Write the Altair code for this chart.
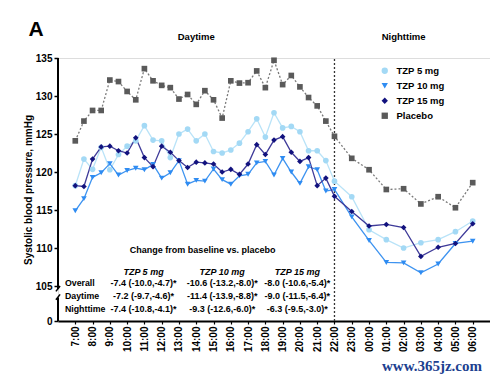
import altair as alt
import pandas as pd

# ---------------- data ----------------
times = ["7:00", "7:30", "8:00", "8:30", "9:00", "9:30", "10:00", "10:30", "11:00", "11:30",
         "12:00", "12:30", "13:00", "13:30", "14:00", "14:30", "15:00", "15:30", "16:00", "16:30",
         "17:00", "17:30", "18:00", "18:30", "19:00", "19:30", "20:00", "20:30", "21:00", "21:30",
         "22:00", "23:00", "00:00", "01:00", "02:00", "03:00", "04:00", "05:00", "06:00"]

series_names = ["TZP 5 mg", "TZP 10 mg", "TZP 15 mg", "Placebo"]

tzp5 = [118.2, 121.7, 120.35, 123.25, 120.3, 122.3, 123.4, 124.1, 126.1, 124.2,
        124.1, 121.9, 125.0, 125.65, 124.1, 125.0, 122.7, 122.5, 122.9, 123.8,
        125.3, 127.0, 124.6, 127.8, 125.8, 126.0, 125.3, 122.8, 122.8, 121.5,
        118.8, 116.75, 112.4, 111.1, 110.0, 110.7, 111.1, 112.15, 113.55]
tzp10 = [114.9, 116.5, 119.3, 119.9, 121.1, 119.6, 120.2, 120.5, 120.3, 121.0,
         119.2, 119.9, 121.5, 118.4, 118.9, 118.8, 120.4, 119.0, 118.4, 119.5,
         119.7, 121.2, 121.4, 119.6, 121.8, 120.0, 118.5, 120.7, 120.3, 117.5,
         117.7, 114.1, 111.0, 108.1, 108.05, 106.75, 107.9, 110.6, 110.9]
tzp15 = [118.2, 118.1, 121.7, 123.3, 123.4, 122.8, 122.5, 124.5, 121.9, 120.7,
         123.4, 122.6, 121.5, 120.6, 121.3, 121.2, 121.05, 120.0, 120.35, 119.7,
         121.05, 123.6, 122.3, 124.2, 124.65, 122.6, 121.4, 121.9, 118.2, 119.2,
         116.8, 114.8, 112.9, 113.1, 112.7, 108.9, 110.1, 110.6, 113.2]
placebo = [124.1, 126.7, 128.1, 128.1, 132.1, 131.9, 130.6, 129.5, 133.6, 132.0,
           131.4, 131.1, 129.6, 130.2, 128.9, 130.7, 129.5, 127.1, 132.0, 131.7,
           131.75, 133.3, 131.1, 134.7, 131.5, 132.7, 131.2, 129.8, 128.7, 126.7,
           124.7, 121.8, 120.3, 117.7, 117.8, 115.8, 116.75, 115.3, 118.6]

tick_labels = ["7:00", "8:00", "9:00", "10:00", "11:00", "12:00", "13:00", "14:00", "15:00",
               "16:00", "17:00", "18:00", "19:00", "20:00", "21:00", "22:00", "23:00", "00:00",
               "01:00", "02:00", "03:00", "04:00", "05:00", "06:00"]
y_ticks = [105, 110, 115, 120, 125, 130, 135]

table_title = "Change from baseline vs. placebo"
col_headers = ["TZP 5 mg", "TZP 10 mg", "TZP 15 mg"]
row_labels = ["Overall", "Daytime", "Nighttime"]
cells = [["-7.4 (-10.0,-4.7)*", "-10.6 (-13.2,-8.0)*", "-8.0 (-10.6,-5.4)*"],
         ["-7.2 (-9.7,-4.6)*", "-11.4 (-13.9,-8.8)*", "-9.0 (-11.5,-6.4)*"],
         ["-7.4 (-10.8,-4.1)*", "-9.3 (-12.6,-6.0)*", "-6.3 (-9.5,-3.0)*"]]
period_labels = ["Daytime", "Nighttime"]
panel_letter = "A"
watermark = "www.365jz.com"

# ---------------- layout / style ----------------
FONT = "Liberation Sans, Arial, sans-serif"
Y_LOW, Y_HIGH = 100.4, 135      # axis bottom ("0" after the break) and top
X_LOW, X_HIGH = -1, 24
fill_colors = ["#a3d9f5", "#2f8cf2", "#12127e", "#5a5a5a"]
line_colors = ["#b9e3f8", "#3d93f0", "#3e3a99", "#7a7a7a"]
shapes = ["circle", "triangle-down", "diamond", "square"]
dashes = [None, None, None, [2, 2]]

col_x = [3.95, 8.5, 12.85]
row_y = [105.4, 103.7, 102.0]
header_y = 106.8
title_pos = (7.37, 109.7)
row_label_x = -0.6
period_x = [7.0, 19.0]


def hour_offset(s):
    h, m = s.split(":")
    return ((int(h) - 7) % 24) + int(m) / 60


t_vals = [hour_offset(s) for s in times]
records = []
for name, vals in zip(series_names, [tzp5, tzp10, tzp15, placebo]):
    for t, v in zip(t_vals, vals):
        records.append({"t": t, "sbp": v, "series": name})
df = pd.DataFrame(records)

label_array = "[" + ",".join("'" + s + "'" for s in tick_labels) + "]"

x_scale = alt.Scale(domain=[X_LOW, X_HIGH], nice=False, zero=False)
y_scale = alt.Scale(domain=[Y_LOW, Y_HIGH], nice=False, zero=False)

x_axis = alt.Axis(values=list(range(len(tick_labels))),
                  labelExpr=label_array + "[datum.value]",
                  labelAngle=270, title=None, grid=False, labelOverlap=False,
                  domainColor="black", domainWidth=2,
                  tickColor="black", tickSize=3, tickWidth=1.2,
                  labelFont=FONT, labelFontSize=10, labelFontWeight="bold",
                  labelColor="black", labelPadding=2)
y_axis = alt.Axis(values=[Y_LOW] + y_ticks, labelOverlap=False,
                  labelExpr="datum.value < 101 ? '0' : datum.label",
                  title="Systolic blood pressure, mmHg", grid=False,
                  domain=False, tickColor="black", tickSize=4, tickWidth=1.5,
                  labelFont=FONT, labelFontSize=10, labelFontWeight="bold",
                  labelColor="black", labelPadding=2,
                  titleFont=FONT, titleFontSize=10, titleFontWeight="bold",
                  titleColor="black", titlePadding=2)


def X(field):
    return alt.X(field, type="quantitative", scale=x_scale, axis=x_axis)


def Y(field):
    return alt.Y(field, type="quantitative", scale=y_scale, axis=y_axis)


base = alt.Chart(df)

line_layers = []
for name, col, dash in zip(series_names, line_colors, dashes):
    kw = dict(strokeWidth=1.3, color=col)
    if dash:
        kw["strokeDash"] = dash
    line_layers.append(
        base.transform_filter(alt.datum.series == name).mark_line(**kw).encode(
            x=X("t"), y=Y("sbp"))
    )

legend_spec = dict(title=None, orient="none", legendX=322, legendY=8,
                   labelFont=FONT, labelFontSize=9.5, labelFontWeight="bold",
                   labelColor="black", symbolSize=40, rowPadding=4,
                   labelOffset=7)

points = base.mark_point(filled=True, size=32, opacity=1).encode(
    x=X("t"), y=Y("sbp"),
    color=alt.Color("series:N", scale=alt.Scale(domain=series_names, range=fill_colors),
                    legend=alt.Legend(**legend_spec)),
    shape=alt.Shape("series:N", scale=alt.Scale(domain=series_names, range=shapes),
                    legend=alt.Legend(**legend_spec)),
)

# vertical day/night divider
divider = alt.Chart(pd.DataFrame({"t": [15], "lo": [Y_LOW], "hi": [Y_HIGH]})).mark_rule(
    strokeDash=[2, 2], color="#333333", strokeWidth=1.3
).encode(x=X("t"), y=Y("lo"), y2="hi:Q")

# broken y axis line
axis_seg = pd.DataFrame({"x": [X_LOW, X_LOW], "y": [Y_LOW, 104.6], "y2": [103.5, Y_HIGH]})
axis_line = alt.Chart(axis_seg).mark_rule(color="black", strokeWidth=2).encode(
    x=X("x"), y=Y("y"), y2="y2:Q")
brk = pd.DataFrame({"x": [X_LOW - 0.12, X_LOW - 0.12], "x2": [X_LOW + 0.12, X_LOW + 0.12],
                    "y": [104.3, 103.2], "y2": [105.0, 103.9]})
break_marks = alt.Chart(brk).mark_rule(color="black", strokeWidth=1.5).encode(
    x=X("x"), x2="x2:Q", y=Y("y"), y2="y2:Q")

# table
tab = []
for i, h in enumerate(col_headers):
    tab.append({"x": col_x[i], "y": header_y, "text": h, "kind": "header"})
for r, lab in enumerate(row_labels):
    tab.append({"x": row_label_x, "y": row_y[r], "text": lab, "kind": "row"})
    for c in range(3):
        tab.append({"x": col_x[c], "y": row_y[r], "text": cells[r][c], "kind": "cell"})
tab.append({"x": title_pos[0], "y": title_pos[1], "text": table_title, "kind": "title"})
tab_df = pd.DataFrame(tab)

TS = 9
headers = alt.Chart(tab_df[tab_df.kind == "header"]).mark_text(
    font=FONT, fontSize=TS, fontWeight="bold", fontStyle="italic", color="black"
).encode(x=X("x"), y=Y("y"), text="text:N")
rowlabs = alt.Chart(tab_df[tab_df.kind == "row"]).mark_text(
    font=FONT, fontSize=8.8, fontWeight="bold", color="black", align="left"
).encode(x=X("x"), y=Y("y"), text="text:N")
cellt = alt.Chart(tab_df[tab_df.kind == "cell"]).mark_text(
    font=FONT, fontSize=TS, fontWeight="bold", color="black"
).encode(x=X("x"), y=Y("y"), text="text:N")
ttitle = alt.Chart(tab_df[tab_df.kind == "title"]).mark_text(
    font=FONT, fontSize=9, fontWeight="bold", color="black"
).encode(x=X("x"), y=Y("y"), text="text:N")

periods = alt.Chart(pd.DataFrame({"x": period_x, "text": period_labels})).mark_text(
    font=FONT, fontSize=9.5, fontWeight="bold", color="black"
).encode(x=X("x"), y=alt.value(-21), text="text:N")

letter = alt.Chart(pd.DataFrame({"text": [panel_letter]})).mark_text(
    font=FONT, fontSize=21, fontWeight="bold", color="black"
).encode(x=alt.value(-22), y=alt.value(-28), text="text:N")

wm = alt.Chart(pd.DataFrame({"text": [watermark]})).mark_text(
    font="Liberation Serif, DejaVu Serif, serif", fontSize=15, fontWeight="bold", color="#1d3f8f"
).encode(x=alt.value(374), y=alt.value(308), text="text:N")

chart = alt.layer(
    *line_layers, divider, points, axis_line, break_marks,
    ttitle, headers, rowlabs, cellt, periods, letter, wm
).properties(
    width=432, height=263,
    autosize=alt.AutoSizeParams(type="none"),
    padding={"left": 50, "top": 50, "right": 0, "bottom": 55},
).configure_view(stroke=None).configure(background="white")

chart.save("out.html", embed_options={"renderer": "svg", "actions": False})
